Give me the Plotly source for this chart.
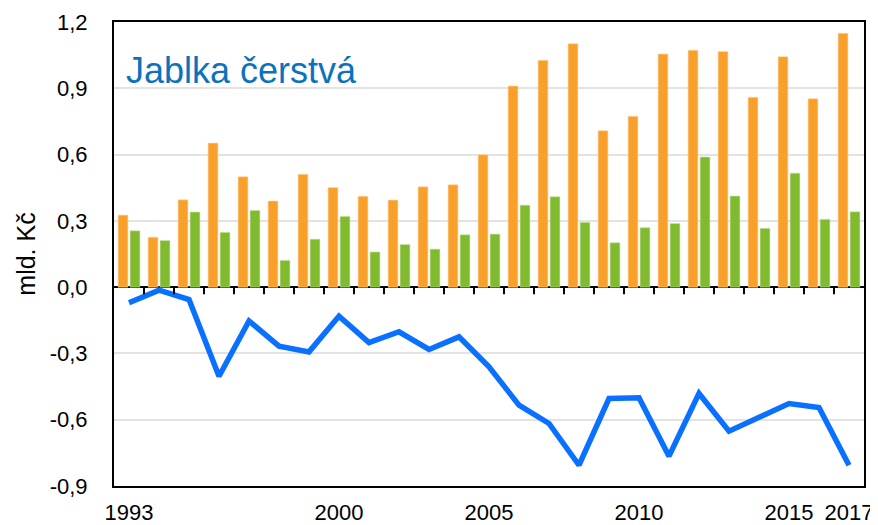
import plotly.graph_objects as go

years = list(range(1993, 2018))
dovoz = [0.326, 0.226, 0.395, 0.652, 0.500, 0.390, 0.511, 0.451, 0.411, 0.394,
         0.454, 0.463, 0.599, 0.910, 1.027, 1.102, 0.708, 0.773, 1.055, 1.072,
         1.067, 0.859, 1.043, 0.853, 1.149]
vyvoz = [0.255, 0.211, 0.340, 0.248, 0.347, 0.121, 0.217, 0.320, 0.159, 0.193,
         0.172, 0.237, 0.240, 0.371, 0.409, 0.293, 0.201, 0.269, 0.288, 0.589,
         0.412, 0.266, 0.516, 0.307, 0.341]
saldo = [-0.071, -0.014, -0.056, -0.403, -0.153, -0.267, -0.293, -0.131, -0.251, -0.202,
         -0.282, -0.225, -0.361, -0.534, -0.617, -0.806, -0.504, -0.501, -0.765, -0.481,
         -0.652, -0.590, -0.527, -0.545, -0.806]

x_tick_years = [1993, 2000, 2005, 2010, 2015, 2017]
y_ticks = [-0.9, -0.6, -0.3, 0.0, 0.3, 0.6, 0.9, 1.2]
y_tick_text = ["-0,9", "-0,6", "-0,3", "0,0", "0,3", "0,6", "0,9", "1,2"]
title_text = "Jablka čerstvá"
y_label = "mld. Kč"

y_min, y_max = -0.9, 1.2
font_family = "Liberation Sans, Arial, sans-serif"

fig = go.Figure()
fig.add_trace(go.Bar(x=years, y=dovoz, name="Dovoz",
                     marker=dict(color="#F9A02A", line=dict(color="#FDD9A8", width=0.6))))
fig.add_trace(go.Bar(x=years, y=vyvoz, name="Vývoz",
                     marker=dict(color="#80BA2F", line=dict(color="#C9E3A6", width=0.6))))
fig.add_trace(go.Scatter(x=years, y=saldo, name="Saldo", mode="lines",
                         line=dict(color="#0A70FF", width=5.5)))

# category-boundary tick marks hanging below the zero line (7 px long)
boundaries = [y + 0.5 for y in years[:-1]]
tick_shapes = [dict(type="line", xref="x", yref="y", x0=b, x1=b,
                    ysizemode="pixel", yanchor=0, y0=0, y1=-7,
                    line=dict(color="black", width=2), layer="above")
               for b in boundaries]

# page body has an 8px margin: the figure is sized/margined to compensate
fig.update_layout(
    width=870, height=517,
    margin=dict(l=106, r=14, t=14, b=39, autoexpand=False),
    plot_bgcolor="white", paper_bgcolor="white",
    barmode="group", bargap=0.2, bargroupgap=0.18,
    showlegend=False,
    font=dict(family=font_family, size=22, color="black"),
    xaxis=dict(
        range=[years[0] - 0.5, years[-1] + 0.5],
        tickvals=x_tick_years, ticktext=[str(v) for v in x_tick_years],
        ticks="", showgrid=False, zeroline=False,
        showline=True, linecolor="black", linewidth=2, mirror=True,
        ticklabelstandoff=6, tickfont=dict(size=22),
    ),
    yaxis=dict(
        range=[y_min, y_max], tickvals=y_ticks, ticktext=y_tick_text,
        showgrid=True, gridcolor="#E3E3E3", gridwidth=1.5,
        zeroline=True, zerolinecolor="black", zerolinewidth=2,
        showline=True, linecolor="black", linewidth=2, mirror=True,
        ticks="", ticklabelstandoff=20, tickfont=dict(size=22),
        title=dict(text=y_label, font=dict(size=25), standoff=7),
    ),
    shapes=tick_shapes,
    annotations=[dict(
        text=title_text, xref="paper", yref="paper", x=0.0133, y=0.8955,
        xanchor="left", yanchor="middle", showarrow=False,
        font=dict(size=36, color="#0B72BC", family=font_family),
    )],
)

fig.write_html("out.html")
